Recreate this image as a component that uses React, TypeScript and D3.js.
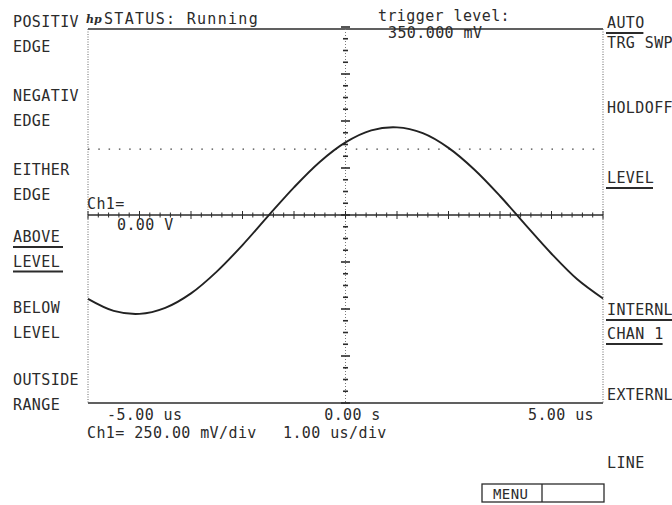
import React from 'react';
import * as d3 from 'd3';

// Ch1 trace (time in us, volts in mV)
const timeUs = [-5, -4.5, -4, -3.5, -3, -2.5, -2, -1.5, -1, -0.5, 0, 0.5, 1, 1.5, 2, 2.5, 3, 3.5, 4, 4.5, 5];
const ch1mV = [-446, -510, -526, -494, -417, -301, -160, -5, 147, 282, 386, 450, 466, 435, 357, 242, 101, -54, -206, -342, -444];

const triggerLevelmV = 350;
const timeLabels = ['-5.00 us', '0.00 s', '5.00 us'];
const leftKeys = [['POSITIV', 'EDGE'], ['NEGATIV', 'EDGE'], ['EITHER', 'EDGE'], ['ABOVE', 'LEVEL'], ['BELOW', 'LEVEL'], ['OUTSIDE', 'RANGE']];
const rightKeys = [['AUTO', 'TRG SWP'], ['HOLDOFF'], ['LEVEL'], ['INTERNL', 'CHAN 1'], ['EXTERNL'], ['LINE']];

const W = 672;
const H = 505;
const FONT = '"DejaVu Sans Mono", monospace';
const INK = '#2b2b2b';

export default function App() {
  const x = d3.scaleLinear().domain([-5, 5]).range([88, 603]);
  const y = d3.scaleLinear().domain([-1000, 1000]).range([403, 27]);

  const line = d3
    .line<number>()
    .x((d, i) => x(timeUs[i]))
    .y((d) => y(d))
    .curve(d3.curveCatmullRom);

  const vTicks = d3.range(-1000, 1000.1, 62.5);
  const hTicks = d3.range(-5, 5.01, 0.2);

  const leftY = [27, 101, 175, 242, 313, 385];
  const rightY = [[28, 48], [113], [183], [315, 339], [400], [468]];
  // which softkey lines carry an underline (current selection)
  const leftUnder = [[], [], [], [true, true], [], []];
  const rightUnder = [[true, false], [false], [true], [true, true], [false], [false]];

  const txt = { fontFamily: FONT, fontSize: 15, fill: INK, letterSpacing: 0.4 } as const;

  return (
    <div style={{ position: 'absolute', left: 0, top: 0 }}>
      <svg width={W} height={H} style={{ display: 'block', background: '#fff' }}>
        {/* frame */}
        <line x1={x(-5)} x2={x(5)} y1={29} y2={29} stroke={INK} strokeWidth={1.6} />
        <line x1={x(-5)} x2={x(5)} y1={403} y2={403} stroke={INK} strokeWidth={1.6} />
        <line x1={x(-5)} x2={x(-5)} y1={29} y2={403} stroke="#666" strokeWidth={1} strokeDasharray="1,1.5" />
        <line x1={x(5)} x2={x(5)} y1={29} y2={403} stroke="#666" strokeWidth={1} strokeDasharray="1,1.5" />

        {/* graticule centre cross */}
        <line x1={x(0)} x2={x(0)} y1={29} y2={403} stroke="#777" strokeWidth={1} strokeDasharray="1,2" />
        {vTicks.map((v) => {
          const major = Math.abs(v % 250) < 1e-6;
          const len = major ? 4.5 : 2.5;
          return <line key={'v' + v} x1={x(0) - len} x2={x(0) + len} y1={y(v)} y2={y(v)} stroke={INK} strokeWidth={1.6} />;
        })}
        <line x1={x(-5)} x2={x(5)} y1={y(0)} y2={y(0)} stroke={INK} strokeWidth={1.6} />
        {hTicks.map((t) => {
          const major = Math.abs(Math.round(t) - t) < 1e-6;
          const len = major ? 4 : 2.5;
          return <line key={'h' + t.toFixed(1)} x1={x(t)} x2={x(t)} y1={y(0) - len} y2={y(0) + len} stroke={INK} strokeWidth={1} />;
        })}

        {/* trigger level */}
        <line x1={x(-5)} x2={x(5)} y1={y(triggerLevelmV)} y2={y(triggerLevelmV)} stroke="#444" strokeWidth={1.3} strokeDasharray="1.5,8.8" />

        {/* trace */}
        <path d={line(ch1mV) || ''} fill="none" stroke="#222" strokeWidth={1.9} />

        {/* header */}
        <text x={86} y={23} fontFamily="DejaVu Serif, serif" fontStyle="italic" fontWeight="bold" fontSize={11} fill={INK}>hp</text>
        <text x={104} y={24} {...txt} letterSpacing={1.3}>STATUS: Running</text>
        <text x={378} y={21} {...txt}>trigger level:</text>
        <text x={388} y={38} {...txt}>{triggerLevelmV.toFixed(3)} mV</text>

        {/* channel ground marker */}
        <text x={87} y={209} {...txt}>Ch1=</text>
        <text x={117} y={230} {...txt}>0.00 V</text>

        {/* time axis labels */}
        <text x={x(-5) + 19} y={420} {...txt} textAnchor="start">{timeLabels[0]}</text>
        <text x={x(0) + 7} y={420} {...txt} textAnchor="middle">{timeLabels[1]}</text>
        <text x={x(5) - 9} y={420} {...txt} textAnchor="end">{timeLabels[2]}</text>
        <text x={87} y={438} {...txt}>Ch1= 250.00 mV/div</text>
        <text x={283} y={438} {...txt}>1.00 us/div</text>

        {/* left softkeys */}
        {leftKeys.map((k, i) =>
          k.map((s, j) => {
            const by = leftY[i] + j * 24.5;
            return (
              <g key={'l' + i + j}>
                <text x={13} y={by} {...txt}>{s}</text>
                {leftUnder[i][j] && <line x1={13} x2={63} y1={by + 5} y2={by + 5} stroke={INK} strokeWidth={2} />}
              </g>
            );
          })
        )}

        {/* right softkeys */}
        {rightKeys.map((k, i) =>
          k.map((s, j) => {
            const by = rightY[i][j];
            const w = s.length * 9.6 - 2;
            return (
              <g key={'r' + i + j}>
                <text x={607} y={by} {...txt}>{s}</text>
                {rightUnder[i][j] && <line x1={606} x2={Math.min(607 + w, 672)} y1={by + 5} y2={by + 5} stroke={INK} strokeWidth={2} />}
              </g>
            );
          })
        )}

        {/* menu box */}
        <rect x={482} y={484} width={122} height={18} fill="none" stroke={INK} strokeWidth={1.3} />
        <line x1={542} x2={542} y1={484} y2={502} stroke={INK} strokeWidth={1.3} />
        <text x={493} y={499} {...txt} fontSize={14}>MENU</text>
      </svg>
    </div>
  );
}
